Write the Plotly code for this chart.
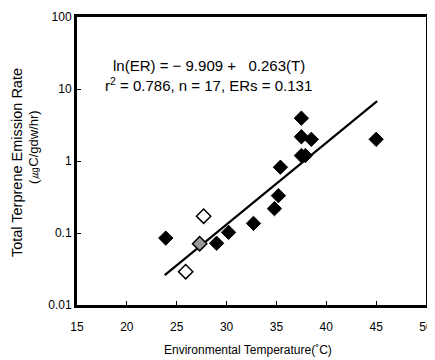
import plotly.graph_objects as go

# data
filled_t = [23.9, 29.0, 30.2, 32.7, 34.8, 35.2, 35.4, 37.5, 38.5, 37.5, 37.9, 45.0, 37.5]
filled_er = [0.085, 0.072, 0.102, 0.136, 0.218, 0.33, 0.82, 2.17, 2.0, 1.19, 1.19, 2.0, 3.93]
open_t = [27.7, 25.9]
open_er = [0.171, 0.029]
half_t = [27.3]
half_er = [0.071]
fit_t = [23.8, 45.1]
fit_er = [0.026, 6.8]

x_ticks = [15, 20, 25, 30, 35, 40, 45, 50]
y_ticks = [0.01, 0.1, 1, 10, 100]
y_tick_labels = ["0.01", "0.1", "1", "10", "100"]

FONT = "Liberation Sans, Arial, sans-serif"

fig = go.Figure()
fig.add_trace(go.Scatter(x=fit_t, y=fit_er, mode="lines",
                         line=dict(color="black", width=2.2), hoverinfo="skip"))
fig.add_trace(go.Scatter(x=filled_t, y=filled_er, mode="markers",
                         marker=dict(symbol="diamond", size=11, color="black",
                                     line=dict(color="black", width=1))))
fig.add_trace(go.Scatter(x=open_t, y=open_er, mode="markers",
                         marker=dict(symbol="diamond", size=11, color="white",
                                     line=dict(color="black", width=1.5))))
fig.add_trace(go.Scatter(x=half_t, y=half_er, mode="markers",
                         marker=dict(symbol="diamond", size=11, color="#999999",
                                     line=dict(color="black", width=1.5))))

# the page body has an 8px margin, so the figure is sized to fit the window
fig.update_layout(
    width=427, height=352,
    margin=dict(l=69, r=5, t=2, b=55),
    paper_bgcolor="white", plot_bgcolor="white",
    showlegend=False,
    font=dict(family=FONT, color="black", size=12),
    xaxis=dict(range=[15, 50], tickvals=x_ticks, ticks="inside", ticklen=4,
               tickwidth=1, tickcolor="black", showgrid=False, zeroline=False,
               showline=True, linecolor="black", linewidth=3, mirror=True,
               ticklabelstandoff=9, ticklabeloverflow="allow",
               tickfont=dict(size=12, family=FONT)),
    yaxis=dict(type="log", range=[-2, 2], tickvals=y_ticks, ticktext=y_tick_labels,
               ticks="inside", ticklen=4, tickwidth=1, tickcolor="black",
               showgrid=False, zeroline=False, showline=True, linecolor="black",
               linewidth=3, mirror=True, ticklabeloverflow="allow",
               tickfont=dict(size=12, family=FONT)),
    annotations=[
        dict(xref="paper", yref="paper", x=0.097, y=0.83, xanchor="left", yanchor="middle",
             text="ln(ER) = − 9.909 +   0.263(T)", showarrow=False,
             font=dict(size=15, family=FONT)),
        dict(xref="paper", yref="paper", x=0.074, y=0.765, xanchor="left", yanchor="middle",
             text="r<sup>2</sup> = 0.786, n = 17, ERs = 0.131", showarrow=False,
             font=dict(size=15, family=FONT)),
        dict(xref="paper", yref="paper", x=-0.17, y=0.495, xanchor="center", yanchor="middle",
             text="Total Terprene Emission Rate", textangle=-90, showarrow=False,
             font=dict(size=14.5, family=FONT)),
        dict(xref="paper", yref="paper", x=-0.125, y=0.55, xanchor="center", yanchor="middle",
             text="(㎍C/gdw/hr)", textangle=-90, showarrow=False,
             font=dict(size=13, family=FONT)),
        dict(xref="paper", yref="paper", x=0.49, y=-0.155, xanchor="center", yanchor="middle",
             text="Environmental Temperature(˚C)", showarrow=False,
             font=dict(size=12, family=FONT)),
    ],
)

fig.write_html("out.html", config={"displayModeBar": False})
